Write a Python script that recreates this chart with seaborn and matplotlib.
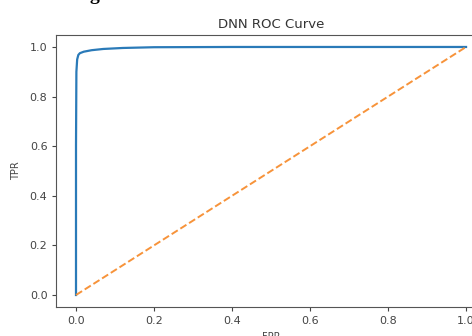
import matplotlib
matplotlib.use("Agg")
import matplotlib.pyplot as plt
import seaborn as sns
import pandas as pd

fpr = [0.0, 0.0, 0.001, 0.003, 0.006, 0.01, 0.02, 0.04, 0.07, 0.12, 0.2, 0.4, 1.0]
tpr = [0.0, 0.6, 0.9, 0.95, 0.968, 0.975, 0.981, 0.987, 0.992, 0.996, 0.999, 1.0, 1.0]
diag_x = [0.0, 1.0]
diag_y = [0.0, 1.0]

roc = pd.DataFrame({"FPR": fpr, "TPR": tpr})
diag = pd.DataFrame({"FPR": diag_x, "TPR": diag_y})

fig = plt.figure(figsize=(4.72, 3.36), dpi=100)
ax = fig.add_axes([0.1197, 0.0851, 0.909, 0.812])
sns.lineplot(data=roc, x="FPR", y="TPR", ax=ax, sort=False, estimator=None,
             color="#2a7ab8", linewidth=1.6)
sns.lineplot(data=diag, x="FPR", y="TPR", ax=ax, sort=False, estimator=None,
             color="#f7933a", linestyle="--", linewidth=1.4)
ax.set_xlim(-0.05, 1.05)
ax.set_ylim(-0.05, 1.05)
ax.set_xticks([0.0, 0.2, 0.4, 0.6, 0.8, 1.0])
ax.set_yticks([0.0, 0.2, 0.4, 0.6, 0.8, 1.0])
ax.tick_params(labelsize=8, colors="#444444", length=3)
for s in ax.spines.values():
    s.set_color("#555555")
ax.set_title("DNN ROC Curve", fontsize=9.5, color="#333333", pad=5)
ax.set_xlabel("FPR", fontsize=7, color="#444444", labelpad=4)
ax.set_ylabel("TPR", fontsize=7, color="#444444", labelpad=6)
fig.text(0.2, 1.014, "g", fontsize=14, fontweight="bold", family="Liberation Serif",
         ha="center", va="center")
fig.savefig("out.png", dpi=100)
